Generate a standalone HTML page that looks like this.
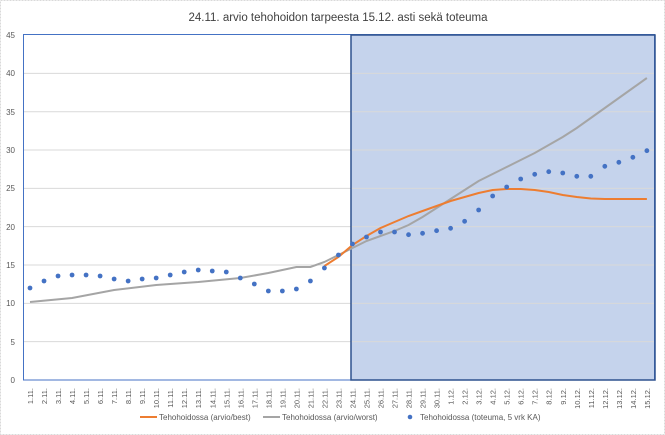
<!DOCTYPE html>
<html><head><meta charset="utf-8"><style>
body{margin:0;background:#fff}
svg{display:block;font-family:"Liberation Sans",sans-serif}
</style></head><body>
<svg id="s" width="665" height="435" viewBox="0 0 665 435">
<rect x="0.5" y="0.5" width="664" height="434" fill="#fff" stroke="#d9d9d9" stroke-dasharray="2,1"/>
<text x="338" y="21" font-size="11.5" text-anchor="middle" fill="#404040">24.11. arvio tehohoidon tarpeesta 15.12. asti sekä toteuma</text>
<rect x="351" y="35" width="304" height="345" fill="#c5d3ec"/>
<g id="grid" stroke="#d9d9d9" stroke-width="1"></g>
<rect x="23.5" y="34.5" width="631" height="345.5" fill="none" stroke="#4472c4" stroke-width="1"/>
<rect x="351" y="35" width="304" height="345" fill="none" stroke="#2f528f" stroke-width="1.5"/>
<g font-size="8" fill="#595959" text-anchor="end">
<text x="15" y="383">0</text><text x="15" y="345">5</text><text x="15" y="306">10</text><text x="15" y="268">15</text><text x="15" y="230">20</text><text x="15" y="191">25</text><text x="15" y="153">30</text><text x="15" y="115">35</text><text x="15" y="76">40</text><text x="15" y="38">45</text>
</g>
<g id="xl" font-size="7.5" fill="#595959" text-anchor="end"></g>
<polyline id="gray" fill="none" stroke="#a5a5a5" stroke-width="2"/>
<polyline id="orange" fill="none" stroke="#ed7d31" stroke-width="2"/>
<g id="dots" fill="#4472c4"></g>
<g font-size="8" fill="#595959">
<line x1="140" y1="417" x2="157" y2="417" stroke="#ed7d31" stroke-width="2"/><text x="159" y="420">Tehohoidossa (arvio/best)</text>
<line x1="263" y1="417" x2="280" y2="417" stroke="#a5a5a5" stroke-width="2"/><text x="282" y="420">Tehohoidossa (arvio/worst)</text>
<circle cx="410" cy="417" r="2.3" fill="#4472c4"/><text x="420" y="420">Tehohoidossa (toteuma, 5 vrk KA)</text>
</g>
</svg>
<script>
var ns="http://www.w3.org/2000/svg";
function X(i){return 30+14.02*i}
var g=document.getElementById('grid');
for(var k=1;k<9;k++){var y=380-k*38.33;var l=document.createElementNS(ns,'line');l.setAttribute('x1',24);l.setAttribute('x2',654);l.setAttribute('y1',y);l.setAttribute('y2',y);g.appendChild(l);}
var labs=[];for(var d=1;d<=30;d++)labs.push(d+'.11.');for(d=1;d<=15;d++)labs.push(d+'.12.');
var xl=document.getElementById('xl');
labs.forEach(function(t,i){var e=document.createElementNS(ns,'text');var x=X(i)+3;e.setAttribute('transform','translate('+x+',388) rotate(-90)');e.textContent=t;xl.appendChild(e);});
var dy=[288,281,276,275,275,276,279,281,279,278,275,272,270,271,272,278,284,291,291,289,281,268,255,244,237,232,232,234.7,233.3,230.7,228.3,221.3,210,196,187,179,174.3,171.7,173,176.3,176.3,166.3,162.3,157.3,150.7];
var dd=document.getElementById('dots');
dy.forEach(function(y,i){var c=document.createElementNS(ns,'circle');c.setAttribute('cx',X(i));c.setAttribute('cy',y);c.setAttribute('r',2.4);dd.appendChild(c);});
var gvals={0:302,3:298,6:290,9:285,12:282,15:278,17:273,18:270,19:267,20:267,21:262,22:255,23:248,24:241,25:236,26:231,27:225,28:217,29:208,30:199,31:190,32:181,33:174,34:167,35:160,36:153,37:145,38:137,39:128,40:118,41:108,42:98,43:88,44:78};
var pts=[];
Object.keys(gvals).map(Number).sort(function(a,b){return a-b}).forEach(function(k){pts.push(X(k)+','+gvals[k]);});
document.getElementById('gray').setAttribute('points',pts.join(' '));
var ov={21:266,22:257,23:245,24:236,25:228,26:222,27:216,28:211,29:206,30:201,31:197,32:193,33:190,34:189,35:189,36:190,37:192,38:195,39:197,40:198.5,41:199,42:199,43:199,44:199};
pts=[];Object.keys(ov).map(Number).sort(function(a,b){return a-b}).forEach(function(k){pts.push(X(k)+','+ov[k]);});
document.getElementById('orange').setAttribute('points',pts.join(' '));
</script>
</body></html>
